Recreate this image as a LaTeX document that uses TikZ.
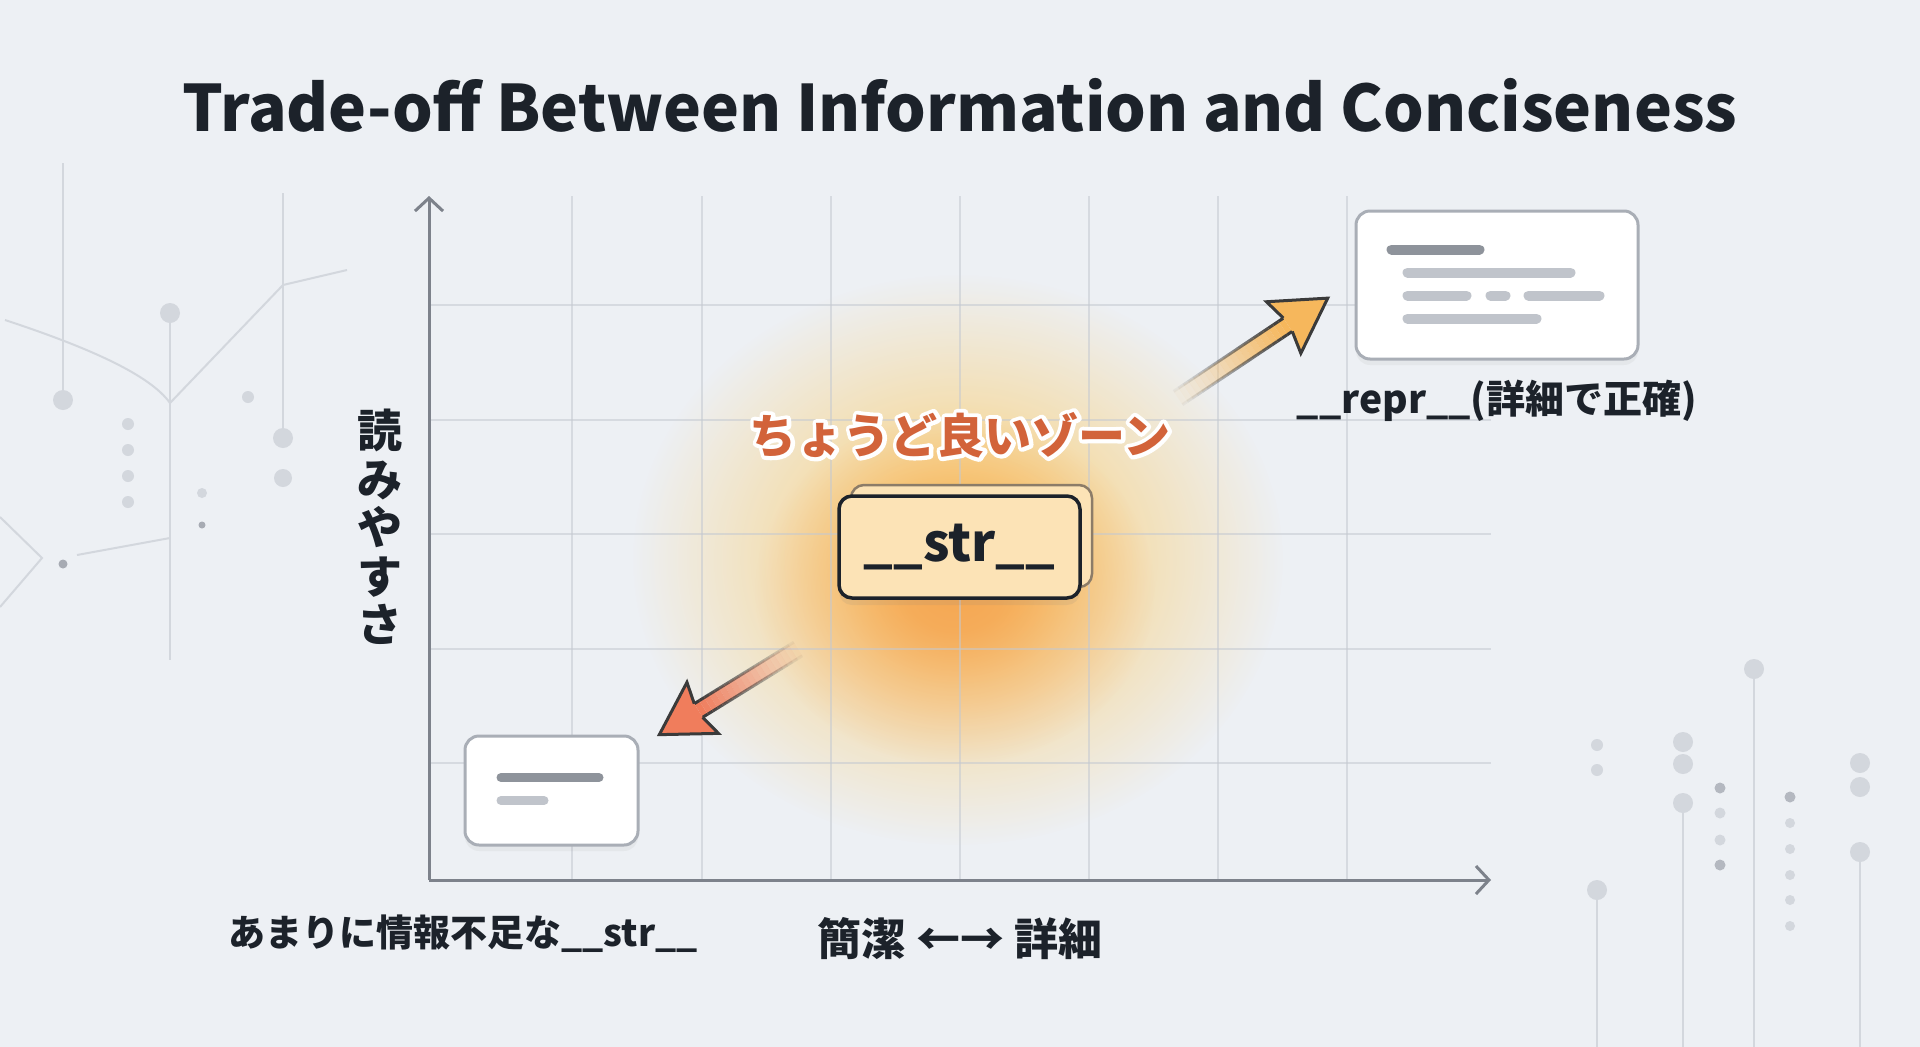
\documentclass[tikz,border=0pt]{standalone}
\usepackage{fontspec}
\setmainfont{Noto Sans CJK JP}
\usetikzlibrary{positioning,arrows.meta,calc,fadings,shadows}

\definecolor{bgcol}{HTML}{EDF0F4}
\definecolor{gridcol}{HTML}{C4C9D1}
\definecolor{axiscol}{HTML}{7D828B}
\definecolor{inkcol}{HTML}{1C222A}
\definecolor{decocol}{HTML}{D3D7DD}
\definecolor{decodark}{HTML}{A7ABB3}
\definecolor{cardline}{HTML}{A9AEB6}
\definecolor{bardark}{HTML}{8E939B}
\definecolor{barlight}{HTML}{C0C4CB}
\definecolor{peach}{HTML}{FCE3B6}
\definecolor{backline}{HTML}{8C7C68}
\definecolor{zonecol}{HTML}{D2633A}
\definecolor{glowyel}{HTML}{FCCB66}
\definecolor{gloworg}{HTML}{F49A48}
\definecolor{upcol}{HTML}{F6B75C}
\definecolor{downcol}{HTML}{F07D5C}
\definecolor{arrowline}{HTML}{3A3A3A}

% soft round fading with a plateau in the middle
\pgfdeclareradialshading{softglow}{\pgfpoint{0bp}{0bp}}{color(0bp)=(white); color(6bp)=(white!88!black); color(14bp)=(white!45!black); color(25bp)=(black); color(50bp)=(black)}
\pgfdeclarefading{softfade}{\pgfuseshading{softglow}}

% white outline round the zone text
\newcommand{\halo}[1]{\rlap{\special{pdf:literal direct 1 Tr 1 1 1 RG 8 w 1 j}#1\special{pdf:literal direct 0 Tr}}#1}

\begin{document}
\begin{tikzpicture}[x=1pt,y=-1pt,
	card/.style={rectangle,draw=cardline,line width=3,fill=white,rounded corners=14,
		drop shadow={shadow xshift=0pt,shadow yshift=-6pt,opacity=0.08}},
	strbox/.style={rectangle,draw=inkcol,line width=3.5,fill=peach,rounded corners=13,
		minimum width=241,minimum height=102,inner sep=0pt,
		font=\bfseries\fontsize{52}{52}\selectfont,text=inkcol},
	strback/.style={rectangle,draw=backline,line width=2.5,fill=peach,rounded corners=13,
		minimum width=241,minimum height=102,inner sep=0pt},
	bar/.style={line cap=round,line width=10,draw=barlight},
	darkbar/.style={bar,draw=bardark},
	axis/.style={draw=axiscol,line width=3,-{Straight Barb[length=13,width=28,line width=3]}},
	grid/.style={draw=gridcol,line width=1.6,opacity=0.55},
	deco/.style={draw=decocol,line width=2},
	arrowhead/.style={fill=#1,draw=arrowline,line width=3,line join=miter},
	label/.style={font=\bfseries\fontsize{#1}{#1}\selectfont,text=inkcol,inner sep=0pt}
	]
\useasboundingbox (0,0) rectangle (1920,1047);
\fill[bgcol] (0,0) rectangle (1920,1047);

% background ornaments, left
\draw[deco] (63,163) -- (63,390);
\draw[deco] (5,320) .. controls (90,348) and (150,375) .. (170,403);
\draw[deco] (170,323) -- (170,660);
\draw[deco] (170,403) -- (283,285) -- (347,270);
\draw[deco] (283,193) -- (283,428);
\draw[deco] (77,555) -- (170,538);
\draw[deco] (0,517) -- (42,558) -- (0,607);
\foreach \x/\y/\r in {63/400/10,170/313/10,283/438/10,283/478/9,128/424/6,128/450/6,128/476/6,128/502/6,248/397/6,202/493/5}
	\fill[decocol] (\x,\y) circle [radius=\r pt];
\foreach \x/\y/\r in {202/525/3.5,63/564/4.5}
	\fill[decodark] (\x,\y) circle [radius=\r pt];

% background ornaments, right
\foreach \x/\y in {1597/900,1683/813,1754/679,1860/862}
	\draw[deco] (\x,\y) -- (\x,1047);
\foreach \x/\y/\r in {1597/890/10,1597/745/6,1597/770/6,1683/742/10,1683/764/10,1683/803/10,
	1720/813/5.5,1720/840/5.5,1754/669/10,1790/823/5,1790/849/5,1790/875/5,1790/900/5,1790/926/5,
	1860/763/10,1860/787/10,1860/852/10}
	\fill[decocol] (\x,\y) circle [radius=\r pt];
\foreach \x/\y in {1720/788,1720/865,1790/797}
	\fill[decodark!70!decocol] (\x,\y) circle [radius=5.5pt];

% glow of the good zone
\fill[glowyel, path fading=softfade, opacity=0.95] (958,560) ellipse [x radius=325pt, y radius=285pt];
\fill[gloworg, path fading=softfade, opacity=0.75] (955,590) ellipse [x radius=200pt, y radius=175pt];

% grid and axes
\foreach \x in {572,702,831,960,1089,1218,1347}
	\draw[grid] (\x,196) -- (\x,880);
\foreach \y in {305,420,534,649,763}
	\draw[grid] (429,\y) -- (1491,\y);
\coordinate (origin) at (429,880);
\coordinate (ytop) at (429,196);
\coordinate (xend) at (1491,880);
\draw[axis] (origin) -- (ytop);
\draw[axis] (origin) -- (xend);

% cards
\node [card, minimum width=173, minimum height=109] (tiny) at (551.5,790.5) {};
\node [card, minimum width=282, minimum height=148] (repr) at (1497,285) {};
\begin{scope}[shift={(tiny.north west)}]
	\draw[darkbar, line width=9] (37.5,43) -- (135.5,43);
	\draw[bar, line width=9] (37.5,66) -- (80.5,66);
\end{scope}
\begin{scope}[shift={(repr.north west)}]
	\draw[darkbar] (37,40) -- (125,40);
	\draw[bar] (53,63) -- (216,63);
	\draw[bar] (53,86) -- (112,86) (136,86) -- (151,86) (174,86) -- (245,86);
	\draw[bar] (53,109) -- (182,109);
\end{scope}

% arrow toward __repr__
\coordinate (upT) at (1178,398);
\begin{scope}[shift={(upT)}, rotate=33.7]
	\foreach \i [evaluate=\i as \op using (\i+1)/22] in {0,...,21}{
		\fill[upcol, opacity=\op] (\i*6,-8) -- (\i*6+6,-8) -- (\i*6+6,8) -- (\i*6,8) -- cycle;
		\draw[arrowline, line width=3, opacity=\op] (\i*6,-8) -- (\i*6+6,-8) (\i*6,8) -- (\i*6+6,8);
	}
	\filldraw[arrowhead=upcol] (132,8) -- (127,31) -- (180,0) -- (127,-31) -- (132,-8);
\end{scope}

% arrow toward the poor __str__
\coordinate (downT) at (798,649);
\begin{scope}[shift={(downT)}, rotate=211.7]
	\foreach \i [evaluate=\i as \op using (\i+1)/20] in {0,...,19}{
		\fill[downcol, opacity=\op] (\i*5.85,-8) -- (\i*5.85+5.85,-8) -- (\i*5.85+5.85,8) -- (\i*5.85,8) -- cycle;
		\draw[arrowline, line width=3, opacity=\op] (\i*5.85,-8) -- (\i*5.85+5.85,-8) (\i*5.85,8) -- (\i*5.85+5.85,8);
	}
	\filldraw[arrowhead=downcol] (117,8) -- (112,30) -- (163,0) -- (112,-30) -- (117,-8);
\end{scope}

% the __str__ box
\coordinate (zone) at (959.5,547);
\node [strback] (strb) at ($(zone)+(12,-11)$) {};
\node [strbox, drop shadow={shadow xshift=0pt,shadow yshift=-7pt,opacity=0.12}] (str) at (zone) {\_\_str\_\_};

% texts
\node [label=64] (title) at (960,105) {Trade-off Between Information and Conciseness};
\node [label=47, text=zonecol] (zonelab) at (960,435) {\halo{ちょうど良いゾーン}};
\node [label=39] (reprlab) at (1497,401) {\_\_repr\_\_(詳細で正確)};
\node [label=37] (poorlab) at (463,934) {あまりに情報不足な\_\_str\_\_};
\node [label=44] (xlab) at (960,939) {簡潔 ←→ 詳細};
\node [font=\bfseries\fontsize{45}{48.5}\selectfont, text=inkcol, align=center, inner sep=0pt] (ylab) at (380,527) {読\\み\\や\\す\\さ};
\end{tikzpicture}
\end{document}
